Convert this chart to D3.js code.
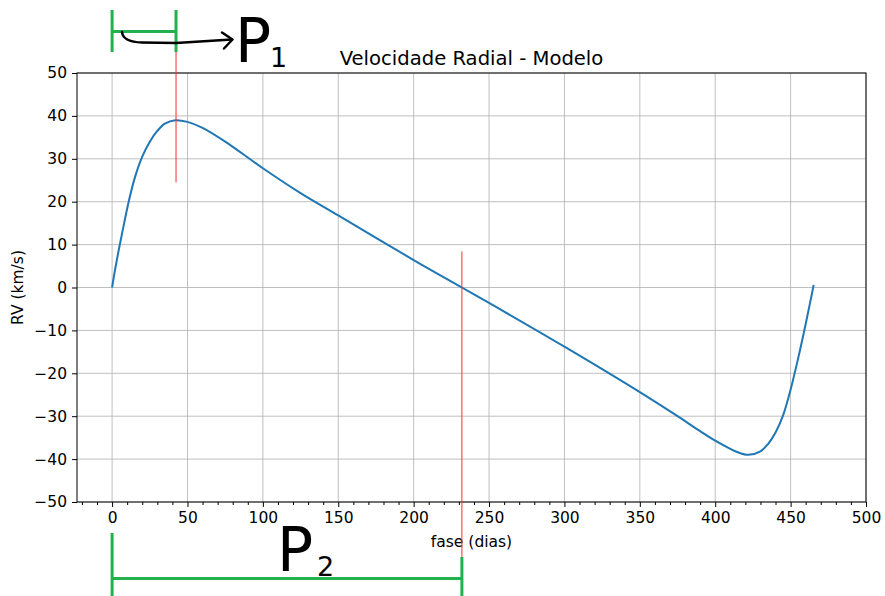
<!DOCTYPE html>
<html>
<head>
<meta charset="utf-8">
<script src="https://cdn.jsdelivr.net/npm/d3@7"></script>
<style>
  body { margin: 0; background: #fff; }
  text { font-family: "DejaVu Sans", sans-serif; fill: #000; }
  .grid line { stroke: #b0b0b0; stroke-width: 0.8; }
  .spine { fill: none; stroke: #000; stroke-width: 1; }
</style>
</head>
<body>
<svg id="chart" width="885" height="596"></svg>
<script>
// Radial velocity model
const phase = [0, 2, 5, 8, 11, 15, 20, 25, 30, 35, 42, 50, 60, 75, 100, 125, 150, 200, 232,
  250, 300, 350, 375, 390, 400, 410, 415, 422, 430, 435, 440, 445, 450, 455, 460, 463, 465.3];
const rv = [0, 4.2, 9.8, 15, 20, 25.5, 30.5, 34, 36.5, 38.2, 39, 38.6, 37.2, 34, 27.8, 22, 16.8, 6.4, 0,
  -3.6, -13.8, -24.4, -30, -33.5, -35.7, -37.6, -38.4, -39, -38.2, -36.5, -33.8, -29.8, -23.8, -16.5, -8.5, -3.4, 0.6];

const xTicks = [0, 50, 100, 150, 200, 250, 300, 350, 400, 450, 500];
const yTicks = [-50, -40, -30, -20, -10, 0, 10, 20, 30, 40, 50];

// hand-drawn annotations (phase of the marked points)
const markP1 = 42.4;   // first peak
const markP2 = 232;    // zero crossing

const margin = { left: 77, top: 73, right: 19, bottom: 94 };
const W = 885, H = 596;
const iw = W - margin.left - margin.right;
const ih = H - margin.top - margin.bottom;

const svg = d3.select("#chart");
const g = svg.append("g").attr("transform", `translate(${margin.left},${margin.top})`);

const x = d3.scaleLinear().domain([-23.27, 500]).range([0, iw]);
const y = d3.scaleLinear().domain([-50, 50]).range([ih, 0]);

// grid
const grid = g.append("g").attr("class", "grid");
grid.selectAll(".gx").data(xTicks).enter().append("line")
  .attr("x1", d => x(d)).attr("x2", d => x(d)).attr("y1", 0).attr("y2", ih);
grid.selectAll(".gy").data(yTicks).enter().append("line")
  .attr("y1", d => y(d)).attr("y2", d => y(d)).attr("x1", 0).attr("x2", iw);

// curve
const line = d3.line().x((d, i) => x(phase[i])).y(d => y(d)).curve(d3.curveCatmullRom.alpha(0.5));
g.append("path").datum(rv).attr("d", line)
  .attr("fill", "none").attr("stroke", "#1f77b4").attr("stroke-width", 2);

// axes
const minor = d3.range(-20, 501, 10).filter(d => d % 50 !== 0);
g.append("g").attr("transform", `translate(0,${ih})`)
  .call(d3.axisBottom(x).tickValues(minor).tickSize(3).tickFormat(""))
  .call(a => a.select(".domain").remove());
g.append("g").attr("transform", `translate(0,${ih})`)
  .call(d3.axisBottom(x).tickValues(xTicks).tickSize(5).tickPadding(5))
  .call(a => a.select(".domain").remove())
  .selectAll("text").attr("font-size", 15.5).attr("font-family", "DejaVu Sans");
g.append("g")
  .call(d3.axisLeft(y).tickValues(yTicks).tickSize(5).tickPadding(5)
    .tickFormat(d => d < 0 ? "\u2212" + Math.abs(d) : d))
  .call(a => a.select(".domain").remove())
  .selectAll("text").attr("font-size", 15.5).attr("font-family", "DejaVu Sans");
g.append("rect").attr("class", "spine").attr("width", iw).attr("height", ih);

// labels
svg.append("text").attr("x", margin.left + iw / 2).attr("y", 65)
  .attr("text-anchor", "middle").attr("font-size", 19.6).text("Velocidade Radial - Modelo");
svg.append("text").attr("x", margin.left + iw / 2).attr("y", 547)
  .attr("text-anchor", "middle").attr("font-size", 15.5).text("fase (dias)");
svg.append("text").attr("transform", `translate(23,${margin.top + ih / 2}) rotate(-90)`)
  .attr("text-anchor", "middle").attr("font-size", 15.5).text("RV (km/s)");

// annotations
const ax = d => margin.left + x(d);
const ay = d => margin.top + y(d);
const green = "#22b14c";
const ann = svg.append("g");

ann.append("line").attr("x1", ax(markP1)).attr("x2", ax(markP1))
  .attr("y1", 50).attr("y2", ay(24.5)).attr("stroke", "#ff2a2a").attr("stroke-width", 1);
ann.append("line").attr("x1", ax(markP2)).attr("x2", ax(markP2))
  .attr("y1", ay(8.4)).attr("y2", 557).attr("stroke", "#ff2a2a").attr("stroke-width", 1);

// P1 bracket
[[ax(0), ax(0), 10, 52], [ax(markP1), ax(markP1), 10, 52], [ax(0), ax(markP1), 31.5, 31.5]]
  .forEach(s => ann.append("line").attr("x1", s[0]).attr("x2", s[1]).attr("y1", s[2]).attr("y2", s[3])
    .attr("stroke", green).attr("stroke-width", 3));
// P2 bracket
[[ax(0), ax(0), 533, 596], [ax(markP2), ax(markP2), 557, 596], [ax(0), ax(markP2), 578.5, 578.5]]
  .forEach(s => ann.append("line").attr("x1", s[0]).attr("x2", s[1]).attr("y1", s[2]).attr("y2", s[3])
    .attr("stroke", green).attr("stroke-width", 3));

// curved arrow to P1
ann.append("path").attr("d", "M122,32 Q123,42 142,42.5 L176,43 L232,39.5")
  .attr("fill", "none").attr("stroke", "#000").attr("stroke-width", 2.5).attr("stroke-linecap", "round");
ann.append("path").attr("d", "M222,32.5 L232.5,39.5 L224,48.5")
  .attr("fill", "none").attr("stroke", "#000").attr("stroke-width", 2.5)
  .attr("stroke-linecap", "round").attr("stroke-linejoin", "round");

const big = (tx, ty, main, sub, sx, sy) => {
  ann.append("text").attr("x", tx).attr("y", ty).attr("font-family", "Liberation Sans")
    .attr("font-size", 60).text(main);
  ann.append("text").attr("x", sx).attr("y", sy).attr("font-family", "Liberation Sans")
    .attr("font-size", 27).text(sub);
};
big(235, 62, "P", "1", 270, 67);
big(277, 571, "P", "2", 317, 576);
</script>
</body>
</html>
